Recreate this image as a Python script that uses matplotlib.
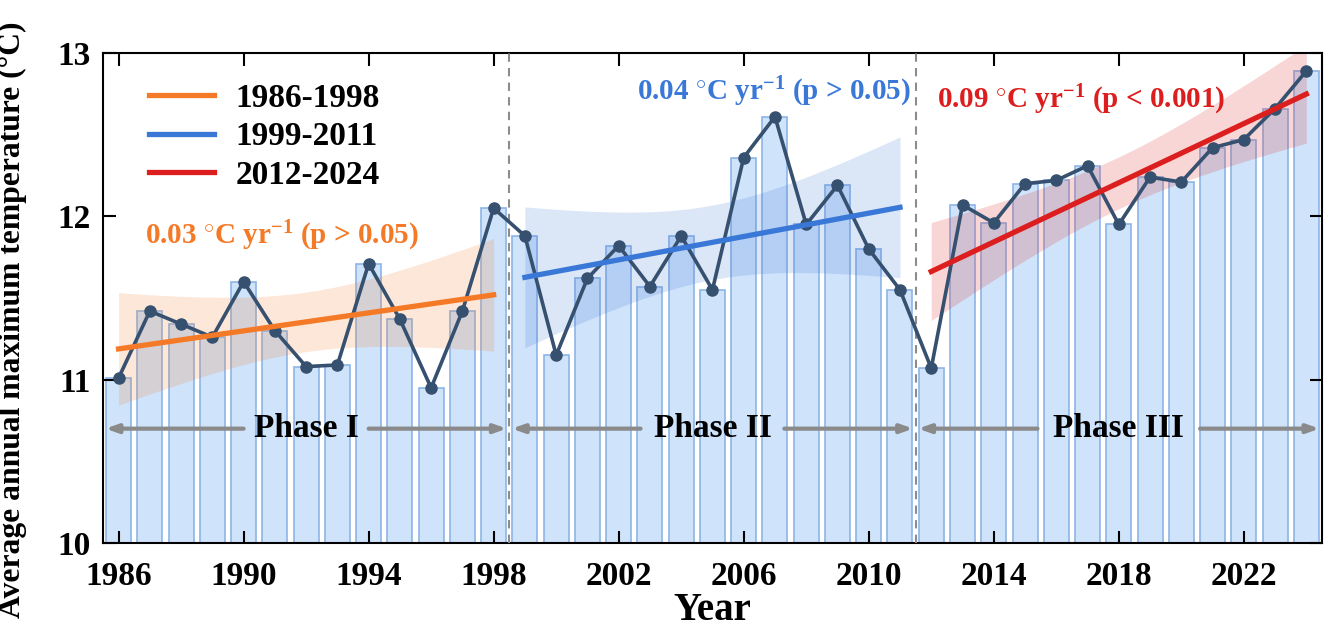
import numpy as np
import matplotlib
matplotlib.use('Agg')
import matplotlib.pyplot as plt

# annual mean of daily maximum temperature (degC)
years = np.arange(1986, 2025)
temps = [11.01, 11.42, 11.34, 11.26, 11.60, 11.30, 11.08, 11.09, 11.71, 11.37,
         10.95, 11.42, 12.05, 11.88, 11.15, 11.62, 11.82, 11.57, 11.88, 11.55,
         12.36, 12.61, 11.95, 12.19, 11.80, 11.55, 11.07, 12.07, 11.96, 12.20,
         12.22, 12.31, 11.95, 12.24, 12.21, 12.42, 12.47, 12.66, 12.89]

periods = [(1986, 1998), (1999, 2011), (2012, 2024)]
period_labels = ['1986-1998', '1999-2011', '2012-2024']
phase_names = ['Phase I', 'Phase II', 'Phase III']
trend_colors = ['#f47a28', '#3a78d8', '#dc1e1e']
trend_texts = [r'0.03 $^{\circ}$C yr$^{-1}$ (p > 0.05)',
               r'0.04 $^{\circ}$C yr$^{-1}$ (p > 0.05)',
               r'0.09 $^{\circ}$C yr$^{-1}$ (p < 0.001)']

T_975 = 2.201  # two-sided 95% t value, 11 degrees of freedom

plt.rcParams['font.family'] = 'Liberation Serif'
plt.rcParams['font.weight'] = 'bold'
plt.rcParams['mathtext.fontset'] = 'custom'
plt.rcParams['mathtext.rm'] = 'Liberation Serif:bold'
plt.rcParams['mathtext.it'] = 'Liberation Serif:bold'
plt.rcParams['mathtext.bf'] = 'Liberation Serif:bold'

fig = plt.figure(figsize=(13.25, 6.31), dpi=100)
ax = fig.add_axes([0.0777, 0.1395, 0.92, 0.7765])

ax.bar(years, temps, width=0.8, color='#cfe3fa', edgecolor='#8db5e6',
       linewidth=1.2, zorder=1)

temps_arr = np.array(temps)
for (y0, y1), lab, col in zip(periods, period_labels, trend_colors):
    mask = (years >= y0) & (years <= y1)
    x = years[mask].astype(float)
    y = temps_arr[mask]
    slope, icpt = np.polyfit(x, y, 1)
    resid = y - (slope * x + icpt)
    s = np.sqrt(np.sum(resid ** 2) / (len(x) - 2))
    grid = np.linspace(x.min(), x.max(), 200)
    fit = slope * grid + icpt
    se = s * np.sqrt(1 / len(x) + (grid - x.mean()) ** 2 / np.sum((x - x.mean()) ** 2))
    ax.fill_between(grid, fit - T_975 * se, fit + T_975 * se, color=col,
                    alpha=0.18, lw=0, zorder=2)
    ax.plot(grid, fit, color=col, lw=3.8, zorder=5, label=lab)

ax.plot(years, temps, color='#36506f', lw=2.6, marker='o', ms=8, zorder=4)

# phase boundaries
for xb in [1998.5, 2011.5]:
    ax.axvline(xb, color='#8c8c8c', ls=(0, (4, 3)), lw=1.5, zorder=3)

# phase arrows with the name in the gap
phase_bounds = [(1985.5, 1998.5), (1998.5, 2011.5), (2011.5, 2024.5)]
half_gaps = [2.0, 2.3, 2.6]
for (a, b), name, hg in zip(phase_bounds, phase_names, half_gaps):
    c = (a + b) / 2
    for start, tip in [(c - hg, a + 0.08), (c + hg, b - 0.08)]:
        ax.annotate('', xy=(tip, 10.7), xytext=(start, 10.7),
                    arrowprops=dict(arrowstyle='-|>,head_length=0.7,head_width=0.25',
                                    color='#8a8a8a', lw=3, shrinkA=0, shrinkB=0),
                    zorder=6)
    ax.text(c, 10.7, name, ha='center', va='center', fontsize=24,
            fontweight='bold', zorder=7)

# trend annotations
trend_pos = [(1986.85, 11.88), (2002.6, 12.76), (2012.2, 12.71)]
for (tx, ty), txt, col in zip(trend_pos, trend_texts, trend_colors):
    ax.text(tx, ty, txt, color=col, fontsize=21, fontweight='bold',
            ha='left', va='center', zorder=7)

ax.set_xlim(1985.5, 2024.5)
ax.set_ylim(10, 13)
ax.set_xticks(range(1986, 2025, 4))
ax.set_yticks([10, 11, 12, 13])
ax.tick_params(direction='in', length=9, width=1.5, top=True, right=True,
               labelsize=24)
ax.tick_params(axis='x', pad=13)
ax.tick_params(axis='y', pad=9)
for sp in ax.spines.values():
    sp.set_linewidth(1.5)

ax.set_xlabel('Year', fontsize=28, fontweight='bold', labelpad=0)
ax.set_ylabel('Average annual maximum temperature (°C)', fontsize=22.8,
              fontweight='bold')
ax.yaxis.set_label_coords(-0.062, 0.455)

ax.legend(loc='upper left', bbox_to_anchor=(0.013, 1.0), frameon=False,
          fontsize=24, handlelength=1.95, handletextpad=0.65, labelspacing=0.22)

fig.savefig('out.png', dpi=100)
